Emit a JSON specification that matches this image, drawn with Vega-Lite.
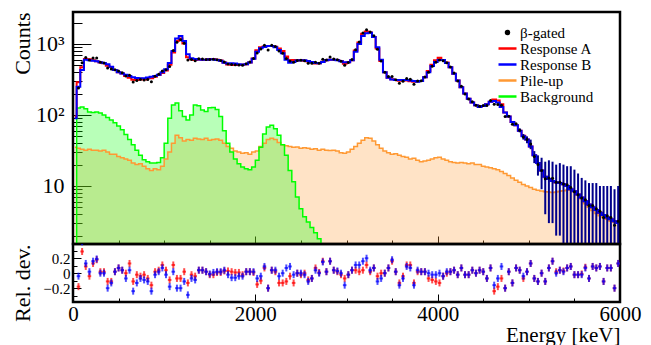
{
"$schema": "https://vega.github.io/schema/vega-lite/v6.json",
"autosize": {"type": "none"},
"bounds": "flush",
"padding": {"left": 73, "top": 12, "right": 578, "bottom": 333},
"config": {
  "font": "Liberation Serif",
  "view": {"stroke": "black", "strokeWidth": 2.5},
  "axis": {"domain": false, "grid": false, "tickColor": "black", "tickWidth": 1, "labelColor": "black", "titleColor": "black", "labelFont": "Liberation Serif", "titleFont": "Liberation Serif", "titleFontWeight": "normal", "zindex": 1},
  "legend": {"labelFont": "Liberation Serif", "labelColor": "black", "labelFontSize": 15, "rowPadding": -4.5, "columns": 1, "labelOffset": 5, "padding": 0, "symbolStrokeWidth": 2.5}
},
"datasets": {"h": [
{"e":20,"a":95,"b":90,"p":35,"g":1},
{"e":60,"d":240,"a":290,"b":250,"p":34,"g":125,"ra":-0.18,"rb":-0.04},
{"e":100,"d":545,"a":470,"b":430,"p":33,"g":130,"ra":0.29,"rb":0.42},
{"e":140,"d":647,"a":614,"b":600,"p":32,"g":122,"ra":0.09,"rb":0.13},
{"e":180,"d":597,"a":611,"b":590,"p":33,"g":110,"ra":-0.04,"rb":0.02},
{"e":220,"d":636,"a":590,"b":580,"p":32,"g":108,"ra":0.13,"rb":0.16},
{"e":260,"d":635,"a":573,"b":570,"p":32,"g":110,"ra":0.18,"rb":0.19},
{"e":300,"d":555,"a":548,"b":555,"p":31,"g":107,"ra":0.02,"rb":0},
{"e":340,"d":540,"a":534,"b":540,"p":32,"g":100,"ra":0.02,"rb":0},
{"e":380,"d":458,"a":492,"b":520,"p":30,"g":92,"ra":-0.11,"rb":-0.2},
{"e":420,"d":443,"a":474,"b":480,"p":28,"g":85,"ra":-0.11,"rb":-0.13},
{"e":460,"d":435,"a":430,"b":430,"p":28,"g":78,"ra":0.02,"rb":0.02},
{"e":500,"d":417,"a":400,"b":400,"p":26,"g":70,"ra":0.07,"rb":0.07},
{"e":540,"d":394,"a":385,"b":385,"p":25,"g":62,"ra":0.04,"rb":0.04},
{"e":580,"d":354,"a":354,"b":370,"p":24,"g":53,"ra":0,"rb":-0.07},
{"e":620,"d":364,"a":336,"b":355,"p":23,"g":45,"ra":0.13,"rb":0.04},
{"e":660,"d":291,"a":313,"b":340,"p":21,"g":38,"ra":-0.11,"rb":-0.24},
{"e":700,"d":306,"a":310,"b":332,"p":20,"g":32,"ra":-0.02,"rb":-0.13},
{"e":740,"d":316,"a":324,"b":330,"p":20.5,"g":27,"ra":-0.04,"rb":-0.07},
{"e":780,"d":312,"a":316,"b":330,"p":19,"g":23.5,"ra":-0.02,"rb":-0.09},
{"e":820,"d":316,"a":330,"b":338,"p":17.5,"g":22,"ra":-0.07,"rb":-0.11},
{"e":860,"d":295,"a":328,"b":345,"p":16.5,"g":21,"ra":-0.16,"rb":-0.24},
{"e":900,"d":351,"a":346,"b":355,"p":17.5,"g":21,"ra":0.02,"rb":-0.02},
{"e":940,"d":374,"a":366,"b":370,"p":17,"g":21.5,"ra":0.04,"rb":0.02},
{"e":980,"d":417,"a":390,"b":400,"p":19,"g":25,"ra":0.11,"rb":0.07},
{"e":1020,"d":435,"a":424,"b":440,"p":24,"g":40,"ra":0.04,"rb":-0.02},
{"e":1060,"d":482,"a":511,"b":540,"p":30,"g":90,"ra":-0.09,"rb":-0.18},
{"e":1100,"d":810,"a":757,"b":800,"p":40,"g":138,"ra":0.11,"rb":0.02},
{"e":1140,"d":1056,"a":1106,"b":1200,"p":52,"g":148,"ra":-0.07,"rb":-0.2},
{"e":1180,"d":1144,"a":1200,"b":1300,"p":48,"g":115,"ra":-0.07,"rb":-0.2},
{"e":1220,"d":1027,"a":1014,"b":1100,"p":43,"g":95,"ra":0.02,"rb":-0.11},
{"e":1260,"d":595,"a":651,"b":720,"p":45,"g":85,"ra":-0.13,"rb":-0.29},
{"e":1300,"d":604,"a":611,"b":630,"p":44,"g":100,"ra":-0.02,"rb":-0.07},
{"e":1340,"d":582,"a":596,"b":615,"p":47,"g":138,"ra":-0.04,"rb":-0.09},
{"e":1380,"d":620,"a":605,"b":605,"p":46,"g":135,"ra":0.04,"rb":0.04},
{"e":1420,"d":614,"a":600,"b":600,"p":45,"g":118,"ra":0.04,"rb":0.04},
{"e":1460,"d":607,"a":600,"b":600,"p":47,"g":112,"ra":0.02,"rb":0.02},
{"e":1500,"d":606,"a":614,"b":610,"p":44,"g":126,"ra":-0.02,"rb":-0.01},
{"e":1540,"d":609,"a":616,"b":605,"p":45,"g":128,"ra":-0.02,"rb":0.01},
{"e":1580,"d":602,"a":600,"b":595,"p":46,"g":120,"ra":0.01,"rb":0.02},
{"e":1620,"d":587,"a":584,"b":580,"p":44,"g":95,"ra":0.01,"rb":0.02},
{"e":1660,"d":558,"a":548,"b":545,"p":40,"g":60,"ra":0.03,"rb":0.04},
{"e":1700,"d":524,"a":514,"b":530,"p":36,"g":40,"ra":0.03,"rb":-0.02},
{"e":1740,"d":516,"a":509,"b":535,"p":34,"g":30,"ra":0.02,"rb":-0.06},
{"e":1780,"d":511,"a":508,"b":530,"p":31,"g":24,"ra":0.01,"rb":-0.06},
{"e":1820,"d":508,"a":505,"b":520,"p":30,"g":20.5,"ra":0.01,"rb":-0.04},
{"e":1860,"d":503,"a":509,"b":515,"p":29,"g":18.5,"ra":-0.02,"rb":-0.04},
{"e":1900,"d":526,"a":520,"b":520,"p":29.5,"g":17.5,"ra":0.02,"rb":0.02},
{"e":1940,"d":557,"a":550,"b":550,"p":28,"g":17,"ra":0.02,"rb":0.02},
{"e":1980,"d":627,"a":624,"b":620,"p":30,"g":18.5,"ra":0.01,"rb":0.02},
{"e":2020,"d":747,"a":817,"b":780,"p":31,"g":23,"ra":-0.15,"rb":-0.07},
{"e":2060,"d":849,"a":901,"b":870,"p":36,"g":35,"ra":-0.1,"rb":-0.04},
{"e":2100,"d":959,"a":921,"b":910,"p":40,"g":54,"ra":0.07,"rb":0.09},
{"e":2140,"d":823,"a":935,"b":935,"p":45,"g":68,"ra":-0.2,"rb":-0.2},
{"e":2180,"d":963,"a":940,"b":940,"p":47,"g":72,"ra":0.04,"rb":0.04},
{"e":2220,"d":922,"a":911,"b":900,"p":45,"g":64,"ra":0.02,"rb":0.04},
{"e":2260,"d":800,"a":864,"b":820,"p":41,"g":52,"ra":-0.13,"rb":-0.04},
{"e":2300,"d":740,"a":798,"b":740,"p":38,"g":38,"ra":-0.13,"rb":0},
{"e":2340,"d":625,"a":665,"b":600,"p":37,"g":27,"ra":-0.11,"rb":0.07},
{"e":2380,"d":574,"a":588,"b":545,"p":36,"g":16.5,"ra":-0.04,"rb":0.09},
{"e":2420,"d":553,"a":597,"b":560,"p":35,"g":11.5,"ra":-0.13,"rb":-0.02},
{"e":2460,"d":585,"a":585,"b":585,"p":35.5,"g":7,"ra":0,"rb":0},
{"e":2500,"d":590,"a":597,"b":590,"p":34,"g":4.8,"ra":-0.02,"rb":0},
{"e":2540,"d":583,"a":583,"b":590,"p":34.5,"g":3.7,"ra":0,"rb":-0.02},
{"e":2580,"d":537,"a":568,"b":575,"p":34,"g":3.1,"ra":-0.09,"rb":-0.11},
{"e":2620,"d":536,"a":560,"b":560,"p":33,"g":2.6,"ra":-0.07,"rb":-0.07},
{"e":2660,"d":553,"a":530,"b":540,"p":33.5,"g":2.2,"ra":0.07,"rb":0.04},
{"e":2700,"d":535,"a":535,"b":535,"p":32,"g":1.8,"ra":0.01,"rb":0},
{"e":2740,"d":610,"a":563,"b":560,"p":33,"g":1.4,"ra":0.16,"rb":0.15},
{"e":2780,"d":597,"a":590,"b":590,"p":32,"ra":0.02,"rb":0.02},
{"e":2820,"d":658,"a":600,"b":600,"p":31.5,"ra":0.16,"rb":0.16},
{"e":2860,"d":614,"a":600,"b":600,"p":32,"ra":0.04,"rb":0.04},
{"e":2900,"d":601,"a":594,"b":590,"p":31,"ra":0.02,"rb":0.03},
{"e":2940,"d":570,"a":577,"b":570,"p":29.5,"ra":-0.02,"rb":0},
{"e":2980,"d":502,"a":525,"b":555,"p":29,"ra":-0.07,"rb":-0.16},
{"e":3020,"d":548,"a":555,"b":555,"p":30,"ra":-0.02,"rb":-0.02},
{"e":3060,"d":604,"a":590,"b":590,"p":33,"ra":0.04,"rb":0.04},
{"e":3100,"d":831,"a":813,"b":780,"p":36,"ra":0.04,"rb":0.11},
{"e":3140,"d":1066,"a":1054,"b":1000,"p":40,"ra":0.02,"rb":0.11},
{"e":3180,"d":1425,"a":1394,"b":1300,"p":44,"ra":0.04,"rb":0.16},
{"e":3220,"d":1590,"a":1497,"b":1420,"p":48,"ra":0.11,"rb":0.2},
{"e":3260,"d":1475,"a":1457,"b":1440,"p":47,"ra":0.02,"rb":0.04},
{"e":3300,"d":1302,"a":1250,"b":1250,"p":43,"ra":0.07,"rb":0.07},
{"e":3340,"d":841,"a":862,"b":900,"p":38,"ra":-0.04,"rb":-0.11},
{"e":3380,"d":575,"a":575,"b":600,"p":34,"ra":0,"rb":-0.07},
{"e":3420,"d":400,"a":400,"b":400,"p":31,"ra":0,"rb":0},
{"e":3460,"d":349,"a":335,"b":335,"p":29.5,"ra":0.07,"rb":0.07},
{"e":3500,"d":349,"a":319,"b":315,"p":28,"ra":0.16,"rb":0.18},
{"e":3540,"d":314,"a":310,"b":310,"p":28.5,"ra":0.02,"rb":0.02},
{"e":3580,"d":280,"a":304,"b":310,"p":27,"ra":-0.13,"rb":-0.16},
{"e":3620,"d":299,"a":306,"b":312,"p":26,"ra":-0.04,"rb":-0.07},
{"e":3660,"d":327,"a":306,"b":310,"p":25.5,"ra":0.11,"rb":0.09},
{"e":3700,"d":318,"a":298,"b":305,"p":24,"ra":0.11,"rb":0.07},
{"e":3740,"d":271,"a":295,"b":300,"p":24.5,"ra":-0.13,"rb":-0.16},
{"e":3780,"d":302,"a":299,"b":295,"p":23,"ra":0.02,"rb":0.04},
{"e":3820,"d":304,"a":300,"b":300,"p":22,"ra":0.02,"rb":0.02},
{"e":3860,"d":344,"a":340,"b":340,"p":22.5,"ra":0.02,"rb":0.02},
{"e":3900,"d":400,"a":417,"b":400,"p":23,"ra":-0.07,"rb":0},
{"e":3940,"d":484,"a":511,"b":490,"p":24,"ra":-0.09,"rb":-0.02},
{"e":3980,"d":553,"a":590,"b":560,"p":25,"ra":-0.11,"rb":-0.02},
{"e":4020,"d":595,"a":641,"b":595,"p":25.5,"ra":-0.13,"rb":0},
{"e":4060,"d":581,"a":595,"b":595,"p":24,"ra":-0.04,"rb":-0.04},
{"e":4100,"d":546,"a":547,"b":540,"p":23,"ra":0,"rb":0.02},
{"e":4140,"d":476,"a":470,"b":470,"p":22,"ra":0.02,"rb":0.02},
{"e":4180,"d":389,"a":380,"b":380,"p":21.5,"ra":0.04,"rb":0.04},
{"e":4220,"d":301,"a":305,"b":305,"p":21,"ra":-0.02,"rb":-0.02},
{"e":4260,"d":255,"a":245,"b":245,"p":21.5,"ra":0.07,"rb":0.07},
{"e":4300,"d":198,"a":200,"b":200,"p":21,"ra":-0.02,"rb":-0.02},
{"e":4340,"d":168,"a":170,"b":170,"p":20.5,"ra":-0.02,"rb":-0.02},
{"e":4380,"d":154,"a":150,"b":150,"p":21,"ra":0.04,"rb":0.04},
{"e":4420,"d":137,"a":137,"b":137,"p":20,"ra":0,"rb":0},
{"e":4460,"d":133,"a":130,"b":130,"p":20,"ra":0.04,"rb":0.04},
{"e":4500,"d":136,"a":134,"b":134,"p":19,"ra":0.02,"rb":0.02},
{"e":4540,"d":136,"a":142,"b":142,"p":18.5,"ra":-0.07,"rb":-0.07},
{"e":4580,"d":160,"a":154,"b":154,"p":18,"ra":0.07,"rb":0.07},
{"e":4620,"d":142,"a":165,"b":157,"p":17.5,"ra":-0.24,"rb":-0.16},
{"e":4660,"d":140,"a":160,"b":150,"p":17,"ra":-0.18,"rb":-0.07},
{"e":4700,"d":137,"a":142,"b":130,"p":16,"ra":-0.07,"rb":0.09},
{"e":4740,"d":95,"a":108,"b":108,"p":15,"ra":-0.2,"rb":-0.2},
{"e":4780,"d":96,"a":95,"b":95,"p":14,"ra":0.02,"rb":0.02},
{"e":4820,"d":74,"a":80,"b":80,"p":13,"ra":-0.13,"rb":-0.13},
{"e":4860,"d":75,"a":72,"b":72,"p":12,"ra":0.07,"rb":0.07},
{"e":4900,"d":61,"a":60,"b":60,"p":11.3,"ra":0.04,"rb":0.04,"lo":57,"hi":65},
{"e":4940,"d":49,"a":51,"b":50,"p":10.5,"ra":-0.07,"rb":-0.04,"lo":45,"hi":54},
{"e":4980,"d":45,"a":45,"b":45,"p":10,"ra":0.02,"rb":0.02,"lo":40,"hi":50},
{"e":5020,"d":39,"a":36,"b":36,"p":9.5,"ra":0.13,"rb":0.13,"lo":33,"hi":45},
{"e":5060,"d":26,"a":27,"b":27,"p":9,"ra":-0.07,"rb":-0.07,"lo":21,"hi":31},
{"e":5100,"d":20,"a":21,"b":21,"p":8.7,"ra":-0.11,"rb":-0.11,"lo":14,"hi":27},
{"e":5140,"d":16.5,"a":16.5,"b":16.5,"p":8.5,"ra":0,"rb":0,"lo":9,"hi":25},
{"e":5180,"d":12.6,"a":13.5,"b":13.5,"p":8.3,"ra":-0.11,"rb":-0.11,"lo":4,"hi":22},
{"e":5220,"d":13,"a":12.5,"b":12.5,"p":8.2,"ra":0.07,"rb":0.07,"lo":3,"hi":23},
{"e":5260,"d":12.9,"a":11.8,"b":11.8,"p":8.1,"ra":0.16,"rb":0.16,"lo":3,"hi":22},
{"e":5300,"d":11.3,"a":11.2,"b":11.3,"p":8.2,"ra":0.02,"rb":0,"lo":2,"hi":20},
{"e":5340,"d":11.3,"a":11,"b":11,"p":8.4,"ra":0.04,"rb":0.04,"lo":2,"hi":21},
{"e":5380,"d":10.7,"a":10.6,"b":10.6,"p":8.6,"ra":0.03,"rb":0.02,"lo":1.5,"hi":20},
{"e":5420,"d":10.4,"a":10,"b":10,"p":8.8,"ra":0.07,"rb":0.07,"lo":1,"hi":19},
{"e":5460,"d":9.5,"a":9,"b":9,"p":8.8,"ra":0.09,"rb":0.09,"lo":1,"hi":19},
{"e":5500,"d":8.3,"a":8.4,"b":8.4,"p":8.4,"ra":-0.02,"rb":-0.02,"lo":1,"hi":17},
{"e":5540,"d":7.5,"a":7.6,"b":7.6,"p":7.6,"ra":-0.02,"rb":-0.02,"lo":1,"hi":15},
{"e":5580,"d":6.8,"a":6.9,"b":6.9,"p":6.6,"ra":-0.01,"rb":-0.02,"lo":1,"hi":13},
{"e":5620,"d":6.4,"a":6.1,"b":6.1,"p":5.6,"ra":0.08,"rb":0.07,"lo":1,"hi":12},
{"e":5660,"d":5.3,"a":5.5,"b":5.5,"p":5,"ra":-0.07,"rb":-0.07,"lo":1,"hi":11},
{"e":5700,"d":5.3,"a":5,"b":5,"p":4.5,"ra":0.09,"rb":0.09,"lo":1,"hi":11},
{"e":5740,"d":4.8,"a":4.6,"b":4.6,"p":4.1,"ra":0.07,"rb":0.07,"lo":1,"hi":11},
{"e":5780,"d":4.4,"a":4.2,"b":4.2,"p":3.8,"ra":0.09,"rb":0.09,"lo":1,"hi":10},
{"e":5820,"d":3.6,"a":3.9,"b":3.9,"p":3.6,"ra":-0.11,"rb":-0.11,"lo":1,"hi":10},
{"e":5860,"d":3.8,"a":3.6,"b":3.6,"p":3.4,"ra":0.07,"rb":0.07,"lo":1,"hi":10},
{"e":5900,"d":3.6,"a":3.4,"b":3.4,"p":3.2,"ra":0.07,"rb":0.07,"lo":1,"hi":10},
{"e":5940,"d":2.8,"a":3.2,"b":3.2,"p":3.1,"ra":-0.2,"rb":-0.2,"lo":1,"hi":9},
{"e":5980,"d":3.2,"a":3,"b":3,"p":3,"ra":0.13,"rb":0.13,"lo":1,"hi":10}
]},
"spacing": 0,
"vconcat": [
{
  "width": 547, "height": 232,
  "data": {"name": "h"},
  "encoding": {
    "x": {"field": "e", "type": "quantitative", "scale": {"domain": [0, 6000], "nice": false},
      "axis": {"values": [0,500,1000,1500,2000,2500,3000,3500,4000,4500,5000,5500,6000], "labels": false, "title": null,
        "tickSize": {"condition": {"test": "datum.value % 2000 === 0", "value": -8}, "value": -4}}}
  },
  "layer": [
    {"mark": {"type": "area", "interpolate": "step", "clip": true, "fillOpacity": 0.28},
     "encoding": {
       "y": {"field": "p", "type": "quantitative", "stack": null,
         "scale": {"type": "log", "domain": [1.524, 2823], "nice": false},
         "axis": {"values": [2,3,4,5,6,7,8,9,10,20,30,40,50,60,70,80,90,100,200,300,400,500,600,700,800,900,1000,2000],
           "labelExpr": "datum.value == 1000 ? '10³' : datum.value == 100 ? '10²' : datum.value == 10 ? '10' : ''",
           "labelOverlap": false, "labelFontSize": 22, "labelPadding": 27,
           "tickSize": {"condition": {"test": "datum.value == 10 || datum.value == 100 || datum.value == 1000", "value": -18}, "value": -9},
           "title": "Counts", "titleFontSize": 22, "titleAnchor": "end", "titleX": -51, "titleBaseline": "middle"}},
       "color": {"datum": "Pile-up",
         "scale": {"domain": ["β-gated", "Response A", "Response B", "Pile-up", "Background"], "range": ["#000000", "#ff0000", "#0000ff", "#ff9933", "#00ff00"]},
         "legend": {"title": null, "orient": "none", "legendX": 427, "legendY": 13, "padding": 0, "columns": 1,
           "labelFontSize": 15, "labelFont": "Liberation Serif", "labelColor": "black", "rowPadding": -4.5, "labelOffset": 5,
           "symbolType": "stroke", "symbolSize": 324, "symbolStrokeWidth": 2.5,
           "encode": {"symbols": {"update": {
             "shape": {"signal": "datum.value === 'β-gated' ? 'circle' : 'stroke'"},
             "size": {"signal": "datum.value === 'β-gated' ? 16 : 324"},
             "fill": {"signal": "datum.value === 'β-gated' ? 'black' : 'transparent'"},
             "stroke": {"scale": "color", "field": "value"},
             "strokeWidth": {"signal": "datum.value === 'β-gated' ? 1.5 : 2.5"},
             "opacity": {"value": 1}, "fillOpacity": {"value": 1}, "strokeOpacity": {"value": 1}}}}}}
     }},
    {"mark": {"type": "area", "interpolate": "step", "clip": true, "fillOpacity": 0.28},
     "encoding": {"y": {"field": "g", "type": "quantitative", "stack": null}, "color": {"datum": "Background"}}},
    {"mark": {"type": "line", "interpolate": "step", "clip": true, "strokeWidth": 1.5},
     "encoding": {"y": {"field": "p", "type": "quantitative"}, "color": {"datum": "Pile-up"}}},
    {"mark": {"type": "line", "interpolate": "step", "clip": true, "strokeWidth": 1.5},
     "encoding": {"y": {"field": "g", "type": "quantitative"}, "color": {"datum": "Background"}}},
    {"mark": {"type": "line", "interpolate": "step", "clip": true, "strokeWidth": 2},
     "encoding": {"y": {"field": "a", "type": "quantitative"}, "color": {"datum": "Response A"}}},
    {"mark": {"type": "line", "interpolate": "step", "clip": true, "strokeWidth": 2},
     "encoding": {"y": {"field": "b", "type": "quantitative"}, "color": {"datum": "Response B"}}},
    {"transform": [{"filter": "isValid(datum.lo)"}],
     "mark": {"type": "rule", "clip": true, "color": "#00008b", "strokeWidth": 2},
     "encoding": {"y": {"field": "lo", "type": "quantitative"}, "y2": {"field": "hi"}}},
    {"transform": [{"filter": "isValid(datum.d)"}],
     "mark": {"type": "circle", "clip": true, "size": 9, "opacity": 1},
     "encoding": {"y": {"field": "d", "type": "quantitative"}, "color": {"datum": "β-gated"}}}
  ]
},
{
  "width": 547, "height": 58,
  "data": {"name": "h"},
  "transform": [{"filter": "isValid(datum.rb)"}],
  "encoding": {
    "x": {"field": "e", "type": "quantitative", "scale": {"domain": [0, 6000], "nice": false},
      "axis": {"values": [0,500,1000,1500,2000,2500,3000,3500,4000,4500,5000,5500,6000], "format": "d",
        "labelExpr": "datum.value % 2000 === 0 ? datum.label : ''", "labelFlush": false, "labelOverlap": false,
        "labelFontSize": 21, "labelPadding": 9,
        "tickSize": {"condition": {"test": "datum.value % 2000 === 0", "value": -8}, "value": -4},
        "title": "Energy [keV]", "titleFontSize": 21, "titleAnchor": "end", "titleY": 39, "titleBaseline": "alphabetic"}},
    "y": {"field": "rb", "type": "quantitative",
       "scale": {"domain": [-0.385, 0.39], "nice": false, "zero": false},
       "axis": {"values": [-0.3, -0.2, -0.1, 0, 0.1, 0.2, 0.3], "format": ".1f",
         "labelExpr": "datum.value == 0 ? '0' : (datum.value == 0.2 || datum.value == -0.2) ? datum.label : ''",
         "labelOverlap": false, "labelFontSize": 15, "labelPadding": 11,
         "tickSize": {"condition": {"test": "datum.value == 0 || datum.value == 0.2 || datum.value == -0.2", "value": -8}, "value": -4},
         "title": "Rel. dev.", "titleFontSize": 22, "titleAnchor": "end", "titleX": -51, "titleBaseline": "middle"}}
  },
  "layer": [
    {"mark": {"type": "tick", "orient": "vertical", "size": 7, "thickness": 2, "color": "#ff0000", "clip": true},
     "encoding": {"y": {"field": "ra", "type": "quantitative"}}},
    {"mark": {"type": "tick", "orient": "horizontal", "size": 3.6, "thickness": 2, "color": "#ff0000", "clip": true},
     "encoding": {"y": {"field": "ra", "type": "quantitative"}}},
    {"mark": {"type": "tick", "orient": "vertical", "size": 7, "thickness": 2, "color": "#0000ff", "clip": true}},
    {"mark": {"type": "tick", "orient": "horizontal", "size": 3.6, "thickness": 2, "color": "#0000ff", "clip": true}}
  ]
}
]
}
